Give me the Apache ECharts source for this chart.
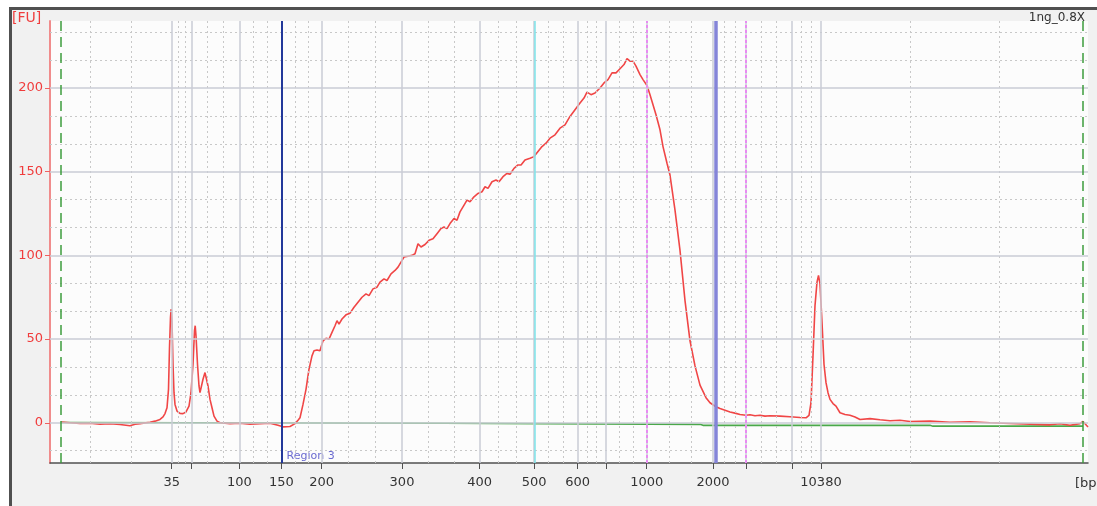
<!DOCTYPE html>
<html>
<head>
<meta charset="utf-8">
<script src="https://cdn.jsdelivr.net/npm/echarts@6/dist/echarts.min.js"></script>
<style>
  html, body { margin: 0; padding: 0; background: #ffffff; }
  #frame { position: absolute; left: 9px; top: 7px; width: 1200px; height: 600px;
           border-left: 3px solid #505050; border-top: 3px solid #505050; background: #f1f1f1; }
  #chart { position: absolute; left: 0; top: 0; width: 1097px; height: 506px; }
</style>
</head>
<body>
<div id="frame"></div>
<div id="chart"></div>
<script>
// ---- Data (migration time in s, fluorescence in FU) ----
const ladderBp   = [35, 50, 100, 150, 200, 300, 400, 500, 600, 700, 1000, 2000, 3000, 7000, 10380];
const ladderTime = [52.17, 54.17, 58.93, 63.13, 67.17, 75.2, 82.97, 88.42, 92.77, 95.6, 99.67, 106.3, 109.6, 114.2, 117.1];
const labeledBp  = [35, 100, 150, 200, 300, 400, 500, 600, 1000, 2000, 10380];
const fuTicks    = [0, 50, 100, 150, 200];

const traceTime = [41.1,42.0,43.0,44.0,45.0,46.0,47.0,48.0,48.5,49.0,50.0,50.5,51.0,51.3,51.5,51.7,51.85,51.95,52.05,52.12,52.2,52.3,52.4,52.5,52.7,53.0,53.3,53.6,53.9,54.1,54.3,54.45,54.52,54.6,54.75,54.9,55.0,55.1,55.3,55.5,55.65,55.8,56.0,56.2,56.4,56.7,57.0,58.0,59.0,60.0,61.0,62.0,62.8,63.3,64.0,64.5,64.8,65.0,65.3,65.6,65.9,66.2,66.4,66.7,67.0,67.3,67.6,67.9,68.2,68.5,68.7,68.9,69.2,69.6,70.0,70.4,70.8,71.2,71.6,71.9,72.3,72.7,73.0,73.4,73.7,74.1,74.5,74.8,75.1,75.4,75.8,76.2,76.5,76.8,77.1,77.5,77.9,78.3,78.7,79.1,79.4,79.7,80.0,80.4,80.7,81.0,81.3,81.7,82.0,82.4,82.8,83.2,83.5,83.8,84.2,84.6,84.9,85.3,85.7,86.0,86.4,86.8,87.1,87.5,88.0,88.4,88.8,89.2,89.6,90.0,90.5,91.0,91.5,92.0,92.5,93.0,93.4,93.7,94.1,94.5,95.0,95.4,95.8,96.2,96.6,97.0,97.4,97.7,98.0,98.3,98.6,99.0,99.3,99.7,100.0,100.3,100.6,101.0,101.3,101.7,102.0,102.5,103.0,103.5,104.0,104.5,105.0,105.6,106.0,106.6,107.0,107.5,108.0,108.5,109.0,109.6,110.0,110.5,111.0,111.5,112.0,113.0,114.0,115.0,115.6,115.9,116.1,116.3,116.5,116.7,116.85,117.0,117.2,117.4,117.6,117.8,118.0,118.3,118.6,119.0,119.5,120.0,120.5,121.0,122.0,123.0,124.0,125.0,126.0,128.0,130.0,132.0,134.0,136.0,138.0,140.0,141.0,142.0,143.0,143.3,143.8];
const traceFU = [0.5,0.0,-0.4,-0.3,-0.8,-0.6,-1.0,-1.8,-0.9,-0.5,0.3,1.0,2.0,3.5,5.5,9,20,45,63,68,60,35,18,11,7,5.6,5.5,6.5,10,18,35,55,58,52,35,22,18,19,26,30,29,22,14,9,4,1,0,-0.5,-0.3,-0.8,-0.6,-0.3,-1.5,-2.4,-2.2,-0.5,1.5,3,11,20,32,40,43,43.5,43,49,50.5,50,54,58,61,59,62,64.5,65.5,69,72,75,77,76,80,81,84,86,85,89,91,93,96,99,99.5,100,101,107,105,106.5,109,110,113,116,117,116,119,122,121,126,129,133,132,135,137,138,141,140,144,145,144,147,149,148.5,152,154,154,157,158,159,162,165,167,170,172,176,178,183,187,191,194,197.5,196,197,200,203,205,209,209,211.5,214,217.5,216,216,213,208,205,201.5,196,190,184,175,165,155,148,127,103,73,49,34,22.5,15,12,9.6,8.5,7.5,6.5,5.8,5,4.5,4.8,4.2,4.5,4,4.2,4,3.6,3.2,3,4.5,12,40,70,84,88,83,60,35,24,18,14,11.5,10,6,5,4.5,3.5,2,2.5,1.8,1.2,1.5,0.8,1.0,0.3,0.6,0,-0.4,-0.8,-1.2,-0.6,-1.5,-0.5,0.8,-2.5];

const baselineTime = [41.1, 79.3, 79.5, 105.0, 105.3, 128.0, 128.3, 143.3];
const baselineFU   = [0.2, -0.3, -0.9, -0.9, -1.5, -1.5, -2.0, -2.0];

const analysisStart = 41.1, analysisEnd = 143.3;   // green dashed
const region3Start = 63.15;                        // dark blue
const cyanMark = 88.43;
const magentaMarks = [99.67, 109.6];
const purpleMark = 106.6;

const xMin = 40, xMax = 143.8, yMin = -24, yMax = 240;

// ---- build ----
const trace = traceTime.map((t, i) => [t, traceFU[i]]);
const baseline = baselineTime.map((t, i) => [t, baselineFU[i]]);

const bounds = [xMin].concat(ladderTime, [xMax]);
const minorX = [];
for (let i = 0; i < bounds.length - 1; i++) {
  const a = bounds[i], b = bounds[i + 1];
  minorX.push(a + (b - a) / 3, a + 2 * (b - a) / 3);
}
const minorY = [];
for (let v = -50; v < 250; v += 50) {
  [v + 50 / 3, v + 100 / 3].forEach(m => { if (m > yMin && m < yMax) minorY.push(m); });
}

const dotted = { color: '#c8c8c8', width: 1, type: [2, 3] };
const solidGrid = { color: '#cacdd6', width: 1.5, type: 'solid' };
const gridLines = []
  .concat(minorX.map(v => ({ xAxis: v, lineStyle: dotted })))
  .concat(minorY.map(v => ({ yAxis: v, lineStyle: dotted })))
  .concat(ladderTime.map(v => ({ xAxis: v, lineStyle: solidGrid })))
  .concat(fuTicks.map(v => ({ yAxis: v, lineStyle: solidGrid })));

const markerLines = [
  { xAxis: analysisStart, lineStyle: { color: '#3c9c3c', width: 1.5, type: [10, 6] } },
  { xAxis: analysisEnd, lineStyle: { color: '#3c9c3c', width: 1.5, type: [10, 6] } },
  { xAxis: cyanMark, lineStyle: { color: '#7ee4ea', width: 1.5, type: 'solid' } },
  { xAxis: purpleMark, lineStyle: { color: '#8484d8', width: 3.5, type: 'solid' } },
  { xAxis: region3Start, lineStyle: { color: '#22389a', width: 2, type: 'solid' } }
].concat(magentaMarks.map(v => ({ xAxis: v, lineStyle: { color: '#e88cf2', width: 2, type: [3, 2] } })));

function bpLabel(v) {
  for (let i = 0; i < ladderTime.length; i++) if (Math.abs(ladderTime[i] - v) < 0.01) return String(ladderBp[i]);
  return '';
}

const chart = echarts.init(document.getElementById('chart'), null, { renderer: 'canvas' });
const option = {
  animation: false,
  backgroundColor: 'transparent',
  grid: { left: 50, right: 9, top: 21, bottom: 43, show: true, backgroundColor: '#fcfcfc', borderWidth: 0 },
  xAxis: {
    type: 'value', min: xMin, max: xMax,
    axisLine: { show: true, onZero: false, lineStyle: { color: '#505050', width: 1.5 } },
    axisTick: { show: true, customValues: ladderTime, length: 6, lineStyle: { color: '#505050', width: 1 } },
    axisLabel: { customValues: labeledBp.map(b => ladderTime[ladderBp.indexOf(b)]), formatter: bpLabel,
                 color: '#333', fontFamily: 'DejaVu Sans', fontSize: 13, margin: 13 },
    splitLine: { show: false }
  },
  yAxis: {
    type: 'value', min: yMin, max: yMax,
    axisLine: { show: true, lineStyle: { color: '#f08c8c', width: 2 } },
    axisTick: { show: true, customValues: fuTicks, length: 5, lineStyle: { color: '#f06060', width: 1 } },
    axisLabel: { customValues: fuTicks, color: '#f03c3c', fontFamily: 'DejaVu Sans', fontSize: 13, margin: 7 },
    splitLine: { show: false }
  },
  series: [
    { type: 'line', data: [], z: 1, silent: true,
      markLine: { silent: true, symbol: ['none', 'none'], label: { show: false }, animation: false, data: gridLines } },
    { type: 'line', data: [], z: 2, silent: true,
      markLine: { silent: true, symbol: ['none', 'none'], label: { show: false }, animation: false, data: markerLines } },
    { type: 'line', data: baseline, z: 3, showSymbol: false, lineStyle: { color: '#4aa84a', width: 1.6 } },
    { type: 'line', data: trace, z: 4, showSymbol: false, lineStyle: { color: '#f04646', width: 1.6 } }
  ]
};
chart.setOption(option);

const rp = chart.convertToPixel({ gridIndex: 0 }, [region3Start, yMin]);
chart.setOption({
  graphic: [
    { type: 'text', left: 12, top: 11, style: { text: '[FU]', fill: '#f03c3c', font: '14px "DejaVu Sans"' } },
    { type: 'text', left: 1075, top: 477, style: { text: '[bp]', fill: '#333', font: '13px "DejaVu Sans"' } },
    { type: 'text', right: 12, top: 12, style: { text: '1ng_0.8X', fill: '#333', font: '12px "DejaVu Sans"' } },
    { type: 'text', x: rp[0] + 5, y: rp[1] - 12, style: { text: 'Region 3', fill: '#6a6ad0', font: '11px "DejaVu Sans"' } }
  ]
});
</script>
</body>
</html>
